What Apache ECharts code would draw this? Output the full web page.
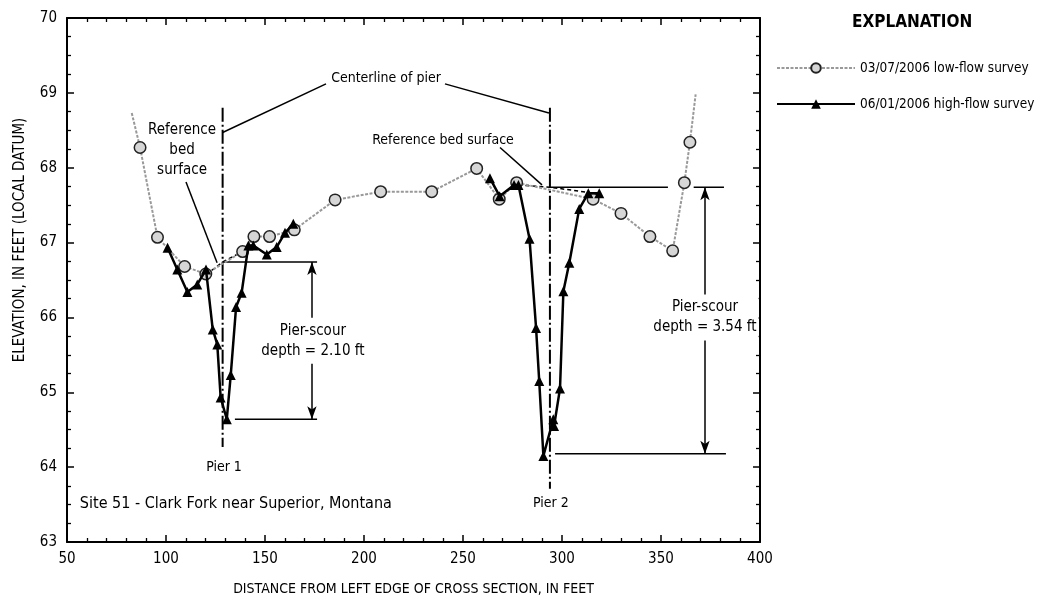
<!DOCTYPE html>
<html><head><meta charset="utf-8">
<script src="https://cdn.jsdelivr.net/npm/echarts@6/dist/echarts.min.js"></script>
<style>html,body{margin:0;padding:0;background:#fff}#c{width:1046px;height:601px}</style>
</head><body><div id="c"></div>
<script>
// ---- axis settings ----
const xMin = 50, xMax = 400, xStep = 50;
const yMin = 63, yMax = 70, yStep = 1;

// ---- series names ----
const lowName = '03/07/2006 low-flow survey';
const highName = '06/01/2006 high-flow survey';

// ---- low-flow survey (distance ft, elevation ft); first & last are unmarked line ends ----
const lowFlow = [
  [82.7, 68.73], [86.9, 68.27], [95.7, 67.07], [109.4, 66.68], [120.1, 66.58],
  [138.7, 66.88], [144.4, 67.08], [152.3, 67.08], [164.8, 67.17], [185.4, 67.57],
  [208.4, 67.68], [234.2, 67.68], [256.9, 67.99], [268.3, 67.58], [277.1, 67.80],
  [315.7, 67.58], [329.8, 67.39], [344.4, 67.08], [355.9, 66.89], [361.8, 67.80],
  [364.6, 68.34], [367.5, 68.98]
];
const lowFlowUnmarked = [0, 21];

// ---- high-flow survey, two reaches ----
const highFlowLeft = [
  [100.8, 66.93], [105.7, 66.64], [110.8, 66.34], [115.8, 66.44], [120.2, 66.64],
  [123.6, 65.84], [125.9, 65.64], [127.6, 64.93], [130.7, 64.64], [132.7, 65.23],
  [135.4, 66.14], [138.2, 66.33], [141.6, 66.96], [144.1, 66.96], [150.9, 66.84],
  [155.9, 66.94], [160.1, 67.13], [164.3, 67.25]
];
const highFlowRight = [
  [263.6, 67.86], [268.5, 67.62], [275.8, 67.77], [278.0, 67.77], [283.6, 67.05],
  [286.9, 65.86], [288.5, 65.15], [290.6, 64.15], [295.6, 64.64], [296.0, 64.55],
  [299.0, 65.05], [300.7, 66.35], [303.7, 66.73], [308.7, 67.45], [313.3, 67.66],
  [318.8, 67.66]
];

// ---- pier / scour annotation values ----
const pierX = [128.6, 293.9];
const pierTop = [68.80, 68.80];
const pierBottom = [64.27, 63.71];
const refElev = [66.74, 67.74];
const scourBottom = [64.64, 64.18];
const refLine1 = [[128.6, 66.74], [176.3, 66.74]];
const refLine2 = [[293.9, 67.74], [353.5, 67.74], null, [366.5, 67.74], [381.8, 67.74]];
const bottomLine1 = [[134.8, 64.64], [176.3, 64.64]];
const bottomLine2 = [[296.5, 64.18], [382.8, 64.18]];
const refDashed1 = [[120.2, 66.57], [128.6, 66.74], [138.7, 66.88]];
const refDashed2 = [[278.0, 67.77], [293.9, 67.74], [318.8, 67.65]];
const arrowX = [173.7, 372.2];
const leaders = [
  [[180.8, 69.12], [128.6, 68.47]],
  [[240.9, 69.12], [293.4, 68.73]],
  [[110.1, 67.81], [125.8, 66.73]],
  [[268.7, 68.27], [289.9, 67.77]]
];
// text: [x, y, text, align, fontSize, whiteBackground]
const notes = [
  [211.1, 69.19, 'Centerline of pier', 'center', 14, false],
  [108.1, 68.23, 'Reference\nbed\nsurface', 'center', 15, false],
  [239.9, 68.36, 'Reference bed surface', 'center', 14, false],
  [174.2, 65.69, 'Pier-scour\ndepth = 2.10 ft', 'center', 15, true],
  [372.2, 66.00, 'Pier-scour\ndepth = 3.54 ft', 'center', 15, true],
  [129.3, 64.00, 'Pier 1', 'center', 14, false],
  [294.4, 63.51, 'Pier 2', 'center', 14, false],
  [56.5, 63.51, 'Site 51 - Clark Fork near Superior, Montana', 'left', 16, false]
];

const FONT = "'Liberation Sans Narrow','DejaVu Sans Condensed','Roboto Condensed','Arial Narrow',sans-serif";

function axisX(pos, labels) {
  return {
    type: 'value', min: xMin, max: xMax, interval: xStep, position: pos,
    axisLine: { onZero: false, lineStyle: { color: '#000', width: 2 } },
    axisTick: { inside: true, length: 7, lineStyle: { color: '#000', width: 1.5 } },
    minorTick: { show: true, splitNumber: 5, length: 4, lineStyle: { color: '#000', width: 1.3 } },
    splitLine: { show: false }, minorSplitLine: { show: false },
    axisLabel: { show: labels, color: '#000', fontSize: 15, fontFamily: FONT, margin: 10 },
    name: labels ? 'DISTANCE FROM LEFT EDGE OF CROSS SECTION, IN FEET' : '',
    nameLocation: 'middle', nameGap: 40,
    nameTextStyle: { color: '#000', fontSize: 14, fontFamily: FONT }
  };
}
function axisY(pos, labels) {
  return {
    type: 'value', min: yMin, max: yMax, interval: yStep, position: pos,
    axisLine: { onZero: false, lineStyle: { color: '#000', width: 2 } },
    axisTick: { inside: true, length: 7, lineStyle: { color: '#000', width: 1.5 } },
    minorTick: { show: true, splitNumber: 4, length: 4, lineStyle: { color: '#000', width: 1.3 } },
    splitLine: { show: false }, minorSplitLine: { show: false },
    axisLabel: { show: labels, color: '#000', fontSize: 15, fontFamily: FONT, margin: 10 }
  };
}

function annoLine(name, data, style) {
  return {
    name: name, type: 'line', data: data, symbol: 'none', silent: true,
    connectNulls: false, z: 1, animation: false,
    lineStyle: Object.assign({ color: '#000', width: 1.5, type: 'solid' }, style)
  };
}

const series = [];
pierX.forEach((x, i) => series.push(annoLine('pier' + i, [[x, pierTop[i]], [x, pierBottom[i]]], { width: 2, type: [14, 3, 2, 3] })));
series.push(annoLine('ref1', refLine1, {}));
series.push(annoLine('ref2', refLine2, {}));
series.push(annoLine('bot1', bottomLine1, {}));
series.push(annoLine('bot2', bottomLine2, {}));
series.push(annoLine('rd1', refDashed1, { type: [4, 3] }));
series.push(annoLine('rd2', refDashed2, { type: [4, 3] }));
leaders.forEach((l, i) => series.push(annoLine('lead' + i, l, { width: 1.5 })));
series.push({
  name: 'arrows', type: 'line', data: [], silent: true,
  markLine: {
    silent: true, symbol: ['arrow', 'arrow'], symbolSize: [7, 13], animation: false,
    label: { show: false },
    lineStyle: { color: '#000', width: 1.5, type: 'solid' },
    data: arrowX.map((x, i) => [{ coord: [x, refElev[i]] }, { coord: [x, scourBottom[i]] }])
  }
});
series.push({
  name: lowName, type: 'line', z: 3,
  data: lowFlow.map((p, i) => lowFlowUnmarked.includes(i) ? { value: p, symbol: 'none' } : p),
  symbol: 'circle', symbolSize: 11.5,
  lineStyle: { color: '#999', width: 2, type: [3, 1.5] },
  itemStyle: { color: '#d6d6d6', borderColor: '#222', borderWidth: 1.5 }
});
[highFlowLeft, highFlowRight].forEach(d => series.push({
  name: highName, type: 'line', z: 4, data: d,
  symbol: 'triangle', symbolSize: 10,
  lineStyle: { color: '#000', width: 2.5 },
  itemStyle: { color: '#000' }
}));
series.push({
  name: 'notes', type: 'custom', z: 10, silent: true,
  data: notes,
  renderItem: function (params, api) {
    const n = notes[params.dataIndex];
    const p = api.coord([n[0], n[1]]);
    const st = {
      text: n[2], fill: '#000', fontSize: n[4], fontFamily: FONT,
      align: n[3], verticalAlign: 'middle', lineHeight: n[4] + 5
    };
    if (n[5]) { st.backgroundColor = '#fff'; st.padding = [3, 2]; }
    return { type: 'text', x: p[0], y: p[1], style: st };
  }
});

const chart = echarts.init(document.getElementById('c'), null, { renderer: 'canvas' });
chart.setOption({
  animation: false,
  backgroundColor: '#fff',
  grid: { left: 67, right: 286, top: 18, bottom: 58 },
  xAxis: [axisX('bottom', true), axisX('top', false)],
  yAxis: [axisY('left', true), axisY('right', false)],
  legend: {
    data: [lowName, highName], orient: 'vertical', left: 771, top: 56,
    itemWidth: 78, itemHeight: 12, itemGap: 22,
    textStyle: { color: '#000', fontSize: 13.5, fontFamily: FONT }
  },
  graphic: [{
    type: 'text', left: 852, top: 14,
    style: { text: 'EXPLANATION', fill: '#000', fontSize: 17, fontWeight: 'bold', fontFamily: FONT }
  }, {
    type: 'text', x: 20, y: 240, rotation: Math.PI / 2,
    style: { text: 'ELEVATION, IN FEET (LOCAL DATUM)', fill: '#000', fontSize: 15, fontFamily: FONT, align: 'center', verticalAlign: 'middle' }
  }],
  series: series
});
</script></body></html>
